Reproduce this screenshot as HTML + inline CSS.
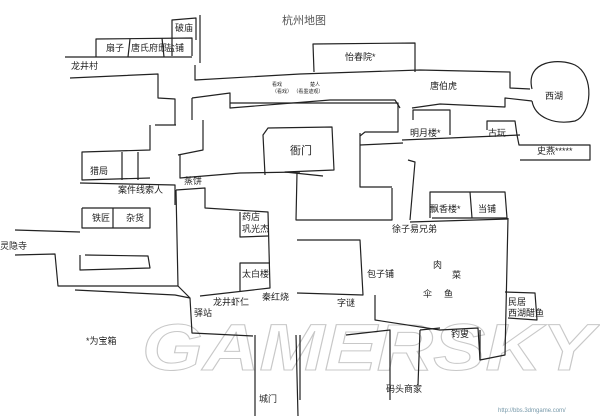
<!DOCTYPE html>
<html><head><meta charset="utf-8"><style>
html,body{margin:0;padding:0;background:#fff}
svg{display:block}
text{font-family:"Liberation Sans","Noto Sans CJK SC",sans-serif;fill:#222}
</style></head><body>
<svg width="600" height="416" viewBox="0 0 600 416" xmlns="http://www.w3.org/2000/svg">
<text x="142" y="370" font-size="66" font-style="italic" font-weight="bold" textLength="452" lengthAdjust="spacingAndGlyphs" style="fill:none;stroke:#c8c8c8;stroke-width:1">GAMERSKY</text>
<g fill="none" stroke="#222" stroke-width="1.2" stroke-linejoin="round">
<path d="M172,56 L172,20 L196,18 L196,40"/>
<path d="M96,57 L96,39 L192,38 L192,56"/>
<path d="M130,39 L128,57 M162,38 L164,57"/>
<path d="M200,15 L200,63"/>
<path d="M65,57 L192,57"/>
<path d="M70,78 L158,74 L158,98 L175,99 L175,125"/>
<path d="M155,125 L176,125"/>
<path d="M195,65 L195,80 L300,74 L420,70 L510,72 L510,88 L530,89"/>
<path d="M192,98 L230,93 L230,108 L330,100 L395,100 L400,108"/>
<path d="M412,108 L440,104 L505,107 L505,98 L532,101"/>
<path d="M192,98 L192,120"/>
<path d="M532,89 C525,60 560,58 575,65 C595,75 592,115 575,121 C555,125 535,118 532,101"/>
<path d="M314,72 L313,44 L415,43 L415,72"/>
<path d="M265,175 L263,135 L268,128 L332,127 L334,170 L285,172 L323,176"/>
<path d="M150,125 L150,150 L82,152 L82,180 L150,178"/>
<path d="M122,152 L122,180 M138,152 L138,180"/>
<path d="M80,183 L175,185 L175,205"/>
<path d="M178,155 L203,150 L203,120"/>
<path d="M180,155 L180,178 L240,173 L300,172"/>
<path d="M82,208 L150,208 L150,228 L82,228 L82,208 M113,208 L113,228"/>
<path d="M15,230 L80,232 M15,255 L55,254 L58,286 L178,286"/>
<path d="M80,255 L80,270 L150,268 L148,256 L85,255"/>
<path d="M176,190 L205,188 L205,208 L268,212 L270,288 L200,296"/>
<path d="M176,190 L178,286 L190,298 L192,333 L253,336"/>
<path d="M75,290 L175,295 L190,298"/>
<path d="M240,212 L240,237 L268,236"/>
<path d="M240,292 L240,263 L270,263"/>
<path d="M297,173 L296,220 L392,220 L392,188"/>
<path d="M360,133 L360,187 L392,187"/>
<path d="M230,103 L398,103 L398,132 L365,132 L360,136"/>
<path d="M360,145 L403,143 M402,140 L520,135"/>
<path d="M413,120 L413,110 L450,110 L450,135"/>
<path d="M487,130 L487,121 L515,121 L517,135 L519,145 L590,145 L590,160 L520,160"/>
<path d="M408,160 L415,162 L410,220"/>
<path d="M430,218 L430,192 L505,192 L507,218 L432,218 M470,192 L472,218"/>
<path d="M410,222 L508,219"/>
<path d="M508,218 L505,355 L480,360 L480,330"/>
<path d="M505,292 L535,293 L537,320 L508,318"/>
<path d="M297,240 L360,240 L363,295 L297,293"/>
<path d="M375,295 L375,320 L440,330 L478,328 L480,360"/>
<path d="M255,335 L255,416 M296,335 L298,416"/>
<path d="M346,335 L390,330 L390,400 M420,330 L418,385"/>
<path d="M420,330 L440,328"/>
<path d="M300,335 L300,400"/>
</g>
<g font-size="9">
<text x="282" y="24" font-size="11" style="fill:#555">杭州地图</text>
<text x="175" y="31">破庙</text>
<text x="106" y="51">扇子</text>
<text x="131" y="51">唐氏府邸</text>
<text x="166" y="51">盐铺</text>
<text x="71" y="69">龙井村</text>
<text x="345" y="60">怡春院*</text>
<text x="430" y="89">唐伯虎</text>
<text x="545" y="99">西湖</text>
<text x="272" y="86" font-size="5">看戏</text>
<text x="272" y="93" font-size="5">（看戏） （看墨迹观）</text>
<text x="310" y="86" font-size="5">楚人</text>
<text x="410" y="136">明月楼*</text>
<text x="488" y="136">古玩</text>
<text x="537" y="154">史燕*****</text>
<text x="290" y="154" font-size="11">衙门</text>
<text x="90" y="174">猎局</text>
<text x="118" y="193">案件线索人</text>
<text x="184" y="184">蒸饼</text>
<text x="92" y="221">铁匠</text>
<text x="126" y="221">杂货</text>
<text x="242" y="220">药店</text>
<text x="242" y="232">巩光杰</text>
<text x="0" y="249">灵隐寺</text>
<text x="242" y="277">太白楼</text>
<text x="213" y="305">龙井虾仁</text>
<text x="262" y="300">秦红烧</text>
<text x="194" y="316">驿站</text>
<text x="86" y="344">*为宝箱</text>
<text x="430" y="212">飘香楼*</text>
<text x="478" y="212">当铺</text>
<text x="392" y="232">徐子易兄弟</text>
<text x="433" y="268">肉</text>
<text x="452" y="278">菜</text>
<text x="423" y="297">伞</text>
<text x="444" y="297">鱼</text>
<text x="367" y="277">包子铺</text>
<text x="337" y="306">字谜</text>
<text x="508" y="305">民居</text>
<text x="508" y="316">西湖醋鱼</text>
<text x="451" y="337">钓叟</text>
<text x="386" y="392">码头商家</text>
<text x="259" y="402">城门</text>
<text x="498" y="412" font-size="6" style="fill:#79a">http://bbs.3dmgame.com/</text>
</g>
</svg>
</body></html>
